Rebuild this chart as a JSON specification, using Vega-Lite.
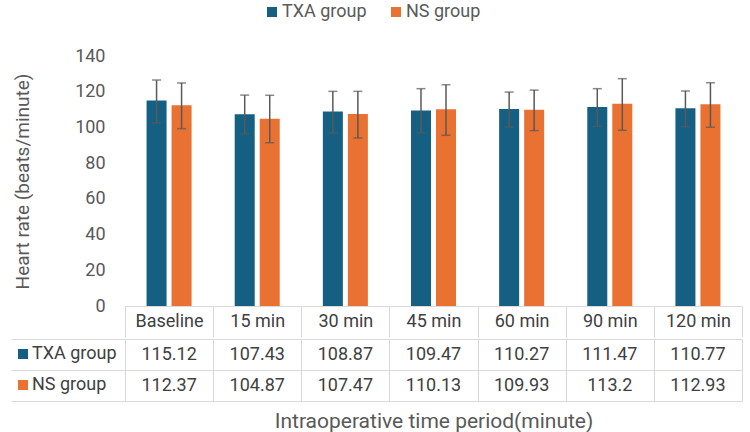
{
  "$schema": "https://vega.github.io/schema/vega-lite/v6.json",
  "padding": {"left": 10, "top": 3, "right": 5, "bottom": 3},
  "spacing": 0,
  "config": {
    "font": "Roboto",
    "axis": {"labelFont": "Roboto", "titleFont": "Roboto", "titleFontWeight": "normal"},
    "axisQuantitative": {"labelOverlap": false},
    "legend": {"labelFont": "Roboto"}
  },
  "data": {
    "values": [
      {"time": "Baseline", "group": "TXA group", "mean": 115.12, "lo": 102.6, "hi": 126.5},
      {"time": "Baseline", "group": "NS group", "mean": 112.37, "lo": 99.3, "hi": 124.9},
      {"time": "15 min", "group": "TXA group", "mean": 107.43, "lo": 96.3, "hi": 118.1},
      {"time": "15 min", "group": "NS group", "mean": 104.87, "lo": 91.4, "hi": 118.0},
      {"time": "30 min", "group": "TXA group", "mean": 108.87, "lo": 96.9, "hi": 120.2},
      {"time": "30 min", "group": "NS group", "mean": 107.47, "lo": 94.1, "hi": 120.2},
      {"time": "45 min", "group": "TXA group", "mean": 109.47, "lo": 97.0, "hi": 121.7},
      {"time": "45 min", "group": "NS group", "mean": 110.13, "lo": 95.6, "hi": 123.9},
      {"time": "60 min", "group": "TXA group", "mean": 110.27, "lo": 100.2, "hi": 119.8},
      {"time": "60 min", "group": "NS group", "mean": 109.93, "lo": 98.2, "hi": 120.9},
      {"time": "90 min", "group": "TXA group", "mean": 111.47, "lo": 100.6, "hi": 121.7},
      {"time": "90 min", "group": "NS group", "mean": 113.2, "lo": 98.4, "hi": 127.3},
      {"time": "120 min", "group": "TXA group", "mean": 110.77, "lo": 100.4, "hi": 120.4},
      {"time": "120 min", "group": "NS group", "mean": 112.93, "lo": 100.1, "hi": 125.0}
    ]
  },
  "resolve": {
    "scale": {"color": "independent", "x": "independent", "y": "independent"},
    "legend": {"color": "independent"}
  },
  "vconcat": [
    {
      "width": 617,
      "height": 250,
      "view": {"stroke": null},
      "encoding": {
        "x": {
          "field": "time", "type": "nominal",
          "sort": ["Baseline", "15 min", "30 min", "45 min", "60 min", "90 min", "120 min"],
          "scale": {"paddingInner": 0, "paddingOuter": 0},
          "axis": {
            "title": null, "labelAngle": 0, "tickBand": "extent", "ticks": true, "tickSize": 31,
            "tickColor": "#d9d9d9", "domainColor": "#d9d9d9", "labelFontSize": 18, "labelColor": "#404040",
            "labelBaseline": "middle", "labelPadding": -16, "grid": false
          }
        },
        "xOffset": {
          "field": "group", "type": "nominal", "sort": ["TXA group", "NS group"],
          "scale": {"paddingInner": 0.2, "paddingOuter": 0.862}
        }
      },
      "layer": [
        {
          "mark": {"type": "bar"},
          "encoding": {
            "y": {
              "field": "mean", "type": "quantitative",
              "scale": {"domain": [0, 140], "nice": false},
              "axis": {
                "values": [0, 20, 40, 60, 80, 100, 120, 140], "grid": false, "ticks": false, "domain": false,
                "labelOverlap": false, "labelFontSize": 18, "labelColor": "#595959", "labelPadding": 20,
                "title": "Heart rate (beats/minute)", "titleFontSize": 19, "titleColor": "#595959", "titlePadding": 42
              }
            },
            "color": {
              "field": "group", "type": "nominal",
              "scale": {"domain": ["TXA group", "NS group"], "range": ["#156082", "#e97132"]},
              "legend": {
                "title": null, "orient": "none", "direction": "horizontal", "legendX": 138, "legendY": -53,
                "symbolType": "square", "symbolSize": 100, "symbolStrokeWidth": 0, "labelFontSize": 18,
                "labelColor": "#595959", "columnPadding": 20, "labelOffset": 1
              }
            }
          }
        },
        {
          "mark": {"type": "rule", "color": "#595959", "strokeWidth": 1.5},
          "encoding": {
            "y": {
              "field": "lo", "type": "quantitative",
              "axis": {
                "values": [0, 20, 40, 60, 80, 100, 120, 140], "grid": false, "ticks": false, "domain": false,
                "labelOverlap": false, "labelFontSize": 18, "labelColor": "#595959", "labelPadding": 20,
                "title": "Heart rate (beats/minute)", "titleFontSize": 19, "titleColor": "#595959", "titlePadding": 42
              }
            },
            "y2": {"field": "hi"}
          }
        },
        {
          "mark": {"type": "tick", "color": "#595959", "thickness": 1.5, "size": 9},
          "encoding": {
            "y": {
              "field": "lo", "type": "quantitative",
              "axis": {
                "values": [0, 20, 40, 60, 80, 100, 120, 140], "grid": false, "ticks": false, "domain": false,
                "labelOverlap": false, "labelFontSize": 18, "labelColor": "#595959", "labelPadding": 20,
                "title": "Heart rate (beats/minute)", "titleFontSize": 19, "titleColor": "#595959", "titlePadding": 42
              }
            }
          }
        },
        {
          "mark": {"type": "tick", "color": "#595959", "thickness": 1.5, "size": 9},
          "encoding": {
            "y": {
              "field": "hi", "type": "quantitative",
              "axis": {
                "values": [0, 20, 40, 60, 80, 100, 120, 140], "grid": false, "ticks": false, "domain": false,
                "labelOverlap": false, "labelFontSize": 18, "labelColor": "#595959", "labelPadding": 20,
                "title": "Heart rate (beats/minute)", "titleFontSize": 19, "titleColor": "#595959", "titlePadding": 42
              }
            }
          }
        }
      ]
    },
    {
      "width": 617,
      "height": 62,
      "view": {"stroke": "#d9d9d9"},
      "encoding": {
        "x": {
          "field": "time", "type": "nominal",
          "sort": ["Baseline", "15 min", "30 min", "45 min", "60 min", "90 min", "120 min"],
          "scale": {"paddingInner": 0, "paddingOuter": 0},
          "axis": {
            "labels": false, "ticks": false, "domain": false, "grid": true, "tickBand": "extent",
            "gridColor": "#d9d9d9", "title": "Intraoperative time period(minute)",
            "titleFontSize": 21, "titleColor": "#595959", "titlePadding": 9
          }
        },
        "y": {
          "field": "group", "type": "nominal", "sort": ["TXA group", "NS group"],
          "scale": {"paddingInner": 0, "paddingOuter": 0}
        }
      },
      "resolve": {"axis": {"y": "independent"}},
      "layer": [
        {
          "mark": {"type": "text", "fontSize": 18, "color": "#404040"},
          "encoding": {
            "text": {"field": "mean", "type": "nominal"},
            "y": {
              "field": "group", "type": "nominal", "sort": ["TXA group", "NS group"],
              "scale": {"paddingInner": 0, "paddingOuter": 0},
              "axis": {
                "title": null, "labels": false, "domain": false, "grid": true, "gridColor": "#d9d9d9",
                "tickBand": "extent", "ticks": true, "tickSize": 114, "tickColor": "#d9d9d9"
              }
            }
          }
        },
        {
          "mark": {"type": "point", "shape": "square", "filled": true, "opacity": 0},
          "encoding": {
            "y": {
              "field": "group", "type": "nominal", "sort": ["TXA group", "NS group"],
              "scale": {"paddingInner": 0, "paddingOuter": 0},
              "axis": {
                "title": null, "labels": false, "ticks": false, "grid": false, "domain": true,
                "domainColor": "#d9d9d9", "offset": 114
              }
            },
            "color": {
              "field": "group", "type": "nominal",
              "scale": {"domain": ["TXA group", "NS group"], "range": ["#156082", "#e97132"]},
              "legend": {
                "title": null, "orient": "none", "direction": "vertical", "legendX": -111, "legendY": 6,
                "symbolType": "square", "symbolSize": 100, "symbolStrokeWidth": 0, "symbolOpacity": 1,
                "labelFontSize": 18, "labelColor": "#404040", "rowPadding": 13, "labelOffset": 0
              }
            }
          }
        }
      ]
    }
  ]
}
